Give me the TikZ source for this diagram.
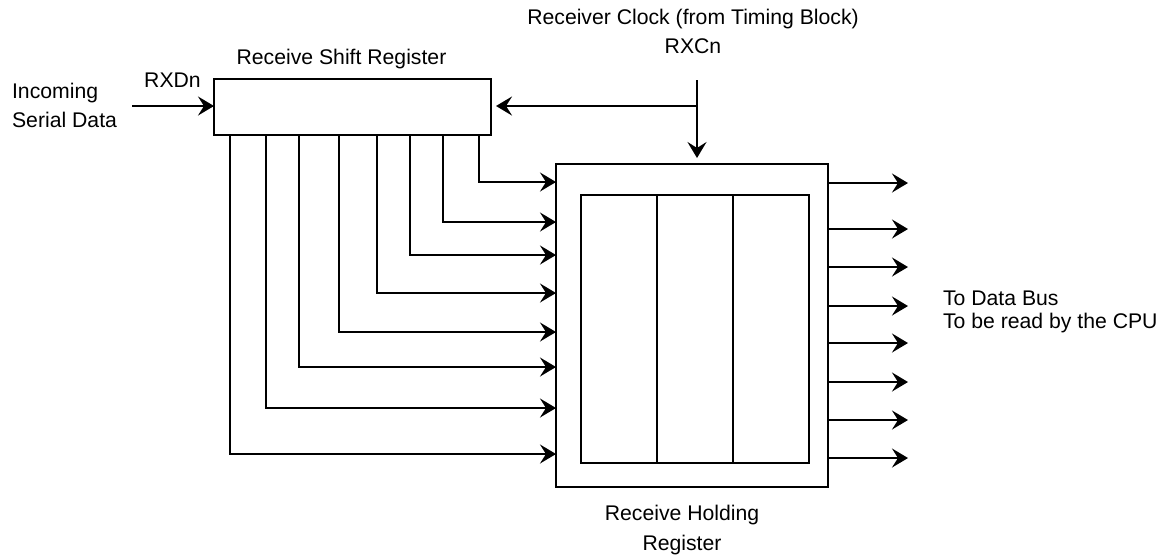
\documentclass[tikz,border=0pt]{standalone}
\usepackage{fontspec}
\setmainfont{Liberation Sans}
\usetikzlibrary{positioning, arrows.meta}

\begin{document}
\begin{tikzpicture}[x=0.5pt, y=-0.5pt, line width=1.1pt,
        >={Stealth[length=8pt, width=9.5pt, inset=3pt]},
        regbox/.style={draw, rectangle, inner sep=0pt, outer sep=0pt},
        cell/.style={regbox, minimum width=38pt, minimum height=134pt},
        lbl/.style={inner sep=0pt, font=\fontsize{10.6}{14.5}\selectfont}]
        \useasboundingbox (0,0) rectangle (1160,554);

        \node[regbox, minimum width=138.5pt, minimum height=28pt] (sr) at (352.5,107) {};
        \node[regbox, minimum width=136pt, minimum height=161.5pt] (hr) at (692,325.5) {};
        \node[cell] (c1) at (619,329) {};
        \node[cell] (c2) [right=0pt of c1] {};
        \node[cell] (c3) [right=0pt of c2] {};

        \node[lbl, anchor=base west, align=left] (inlbl) at (11,127) {Incoming\\Serial Data};
        \node[lbl, anchor=base] (rxdlbl) at (172.5,87) {RXDn};
        \node[lbl, anchor=base] (srlbl) at (341.5,64) {Receive Shift Register};
        \node[lbl, anchor=base, align=center] (clklbl) at (693,53) {Receiver Clock (from Timing Block)\\RXCn};
        \node[lbl, anchor=base, align=center, font=\fontsize{10.6}{15}\selectfont] (hrlbl) at (682,550) {Receive Holding\\Register};
        \node[lbl, anchor=base west, align=left, font=\fontsize{10.6}{11.5}\selectfont] (buslbl) at (942,328) {To Data Bus\\To be read by the CPU};

        \coordinate (rxd) at (132,106);
        \coordinate (clk) at (697,80);

        \draw[->] (rxd) -- (sr.west |- rxd);
        \draw[->, shorten >=3pt] (clk) -- (clk |- hr.north);
        \draw[->, shorten >=2.5pt] (clk |- 0,106) -- (sr.east |- 0,106);

        % parallel load from shift register
        \foreach \bx/\by in {230/454, 266/408, 299/367, 339/332, 377/293, 410/255, 443/222, 479/182}
            \draw[->] (sr.south -| \bx,0) |- (hr.west |- 0,\by);

        % data bus outputs
        \foreach \oy in {183,229,267,306,343,382,420,458}
            \draw[->] (hr.east |- 0,\oy) -- ++(80,0);
\end{tikzpicture}
\end{document}
